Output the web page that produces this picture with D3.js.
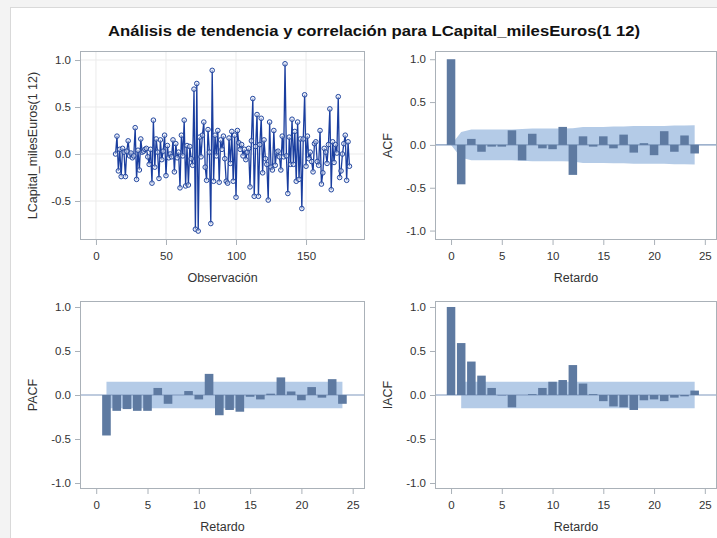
<!DOCTYPE html>
<html>
<head>
<meta charset="utf-8">
<script src="https://cdn.jsdelivr.net/npm/d3@7"></script>
<style>
  html, body { margin: 0; padding: 0; background: #f3f3f3; }
  svg { display: block; }
  text { font-family: "Liberation Sans", Arial, sans-serif; fill: #333; }
</style>
</head>
<body>
<script>
// Differenced series (1 12), observations 14..181
const obsStart = 14;
const seriesValues = [
  0.00, 0.19, -0.18, 0.05, -0.24, 0.06, 0.02, -0.24, 0.03, 0.14,
  -0.02, 0.01, -0.04, -0.02, 0.28, -0.27, 0.04, -0.17, 0.16, 0.02,
  0.03, 0.05, 0.06, -0.03, -0.11, 0.05, -0.31, 0.36, -0.14, 0.16,
  0.02, -0.26, 0.15, -0.06, 0.03, 0.20, -0.23, 0.09, -0.04, 0.00,
  -0.03, 0.15, -0.19, 0.11, -0.04, 0.02, -0.36, 0.20, -0.02, 0.36,
  -0.34, 0.09, -0.33, 0.08, -0.05, -0.12, 0.69, -0.80, 0.75, -0.82,
  0.18, -0.03, 0.20, 0.34, -0.14, -0.28, 0.26, 0.02, -0.74, 0.89,
  -0.29, 0.20, -0.02, 0.25, -0.30, 0.15, 0.05, 0.19, -0.05, -0.29,
  -0.31, 0.17, -0.10, 0.24, -0.29, 0.20, -0.46, 0.25, 0.12, 0.05,
  0.10, -0.02, 0.05, -0.06, 0.02, 0.06, -0.35, 0.14, 0.59, -0.45,
  0.08, 0.42, -0.45, 0.10, 0.38, -0.20, 0.15, -0.05, -0.11, -0.49,
  0.34, -0.14, -0.17, 0.25, -0.12, 0.02, 0.03, -0.03, -0.17, 0.19,
  -0.03, 0.96, -0.02, -0.42, 0.18, -0.11, 0.37, -0.11, 0.24, -0.29,
  0.34, -0.27, 0.16, -0.58, 0.16, 0.63, -0.13, 0.19, -0.05, 0.02,
  -0.08, -0.19, 0.11, 0.13, -0.08, -0.12, 0.25, -0.32, -0.20, 0.06,
  0.02, -0.10, 0.10, 0.48, -0.38, 0.13, -0.09, 0.10, 0.01, 0.61,
  -0.25, -0.18, 0.00, 0.11, 0.20, -0.28, 0.13, -0.13
];

// Autocorrelations, lags 0..24
const acfValues = [1.0, -0.46, 0.07, -0.08, -0.02, -0.02, 0.17, -0.18, 0.13, -0.04,
  -0.05, 0.21, -0.35, 0.10, -0.02, 0.10, -0.04, 0.12, -0.09, 0.02,
  -0.12, 0.16, -0.08, 0.11, -0.10];
// Two-standard-error band for the ACF, lags 0..24
const acfBand = [0.0, 0.15, 0.18, 0.18, 0.18, 0.18, 0.18, 0.185, 0.19, 0.19,
  0.19, 0.19, 0.195, 0.21, 0.21, 0.21, 0.215, 0.215, 0.22, 0.22,
  0.22, 0.22, 0.225, 0.225, 0.23];

// Partial autocorrelations, lags 1..24
const pacfValues = [-0.46, -0.18, -0.16, -0.18, -0.18, 0.08, -0.10, 0.00, 0.045, -0.05,
  0.24, -0.23, -0.17, -0.19, -0.02, -0.05, 0.015, 0.20, 0.04, -0.06,
  0.09, -0.03, 0.18, -0.10];

// Inverse autocorrelations, lags 0..24
const iacfValues = [1.0, 0.59, 0.38, 0.22, 0.08, -0.005, -0.14, 0.0, 0.01, 0.08,
  0.15, 0.17, 0.34, 0.13, 0.01, -0.07, -0.13, -0.14, -0.17, -0.06,
  -0.05, -0.07, -0.03, -0.015, 0.05];
const whiteNoiseBand = 0.151;

const yTicks = [-1.0, -0.5, 0.0, 0.5, 1.0];
const seriesYTicks = [-0.5, 0.0, 0.5, 1.0];
const seriesXTicks = [0, 50, 100, 150];
const lagTicks = [0, 5, 10, 15, 20, 25];

const titleText = "Análisis de tendencia y correlación para LCapital_milesEuros(1 12)";

const W = 717, H = 538;
const svg = d3.select("body").append("svg").attr("width", W).attr("height", H);

// white panel
svg.append("rect").attr("x", 10.5).attr("y", 7.5).attr("width", W).attr("height", H)
  .attr("fill", "#fff").attr("stroke", "#d9d9d9");

svg.append("text").attr("x", 374).attr("y", 36).attr("text-anchor", "middle")
  .attr("textLength", 532).attr("lengthAdjust", "spacingAndGlyphs")
  .style("font-size", "15.5px").style("font-weight", "bold").style("fill", "#111")
  .text(titleText);

const frameColor = "#aab1b8";
const barColor = "#5e7aa1";
const bandColor = "#b4cbe7";
const refColor = "#7e98bd";

function fmt(v) { return d3.format(".1f")(v).replace("−", "-"); }

function setupPanel(box, xDom, yDom, xTicks, yT, xLabel, yLabel, grid) {
  const x = d3.scaleLinear().domain(xDom).range([box.x0, box.x1]);
  const y = d3.scaleLinear().domain(yDom).range([box.y1, box.y0]);
  const g = svg.append("g");
  if (grid) {
    g.selectAll(".gx").data(xTicks).join("line")
      .attr("x1", d => x(d)).attr("x2", d => x(d)).attr("y1", box.y0).attr("y2", box.y1)
      .attr("stroke", "#ebebeb");
    g.selectAll(".gy").data(yT).join("line")
      .attr("y1", d => y(d)).attr("y2", d => y(d)).attr("x1", box.x0).attr("x2", box.x1)
      .attr("stroke", "#ebebeb");
  }
  const xAxis = g.append("g").attr("transform", `translate(0,${box.y1})`)
    .call(d3.axisBottom(x).tickValues(xTicks).tickSize(5).tickPadding(7).tickFormat(d3.format("d")));
  const yAxis = g.append("g").attr("transform", `translate(${box.x0},0)`)
    .call(d3.axisLeft(y).tickValues(yT).tickSize(5).tickPadding(4).tickFormat(fmt));
  [xAxis, yAxis].forEach(a => {
    a.select(".domain").remove();
    a.selectAll("line").attr("stroke", frameColor);
    a.selectAll("text").style("font-size", "11.5px").style("fill", "#333");
  });
  g.append("text").attr("x", (box.x0 + box.x1) / 2).attr("y", box.y1 + 42)
    .attr("text-anchor", "middle").style("font-size", "12.5px").text(xLabel);
  g.append("text").attr("transform", `translate(${box.x0 - 43},${(box.y0 + box.y1) / 2}) rotate(-90)`)
    .attr("text-anchor", "middle").style("font-size", "12.5px").text(yLabel);
  const plot = svg.append("g");
  const clipId = "clip" + Math.round(box.x0) + "_" + Math.round(box.y0);
  svg.append("clipPath").attr("id", clipId).append("rect")
    .attr("x", box.x0).attr("y", box.y0).attr("width", box.x1 - box.x0).attr("height", box.y1 - box.y0);
  plot.attr("clip-path", `url(#${clipId})`);
  svg.append("rect").attr("x", box.x0 + 0.5).attr("y", box.y0 + 0.5)
    .attr("width", box.x1 - box.x0 - 1).attr("height", box.y1 - box.y0 - 1)
    .attr("fill", "none").attr("stroke", frameColor);
  return { x, y, plot };
}

// --- Series plot ---
{
  const box = { x0: 80, x1: 365, y0: 51, y1: 240 };
  const p = setupPanel(box, [-11.4, 192.1], [-0.915, 1.096], seriesXTicks, seriesYTicks,
    "Observación", "LCapital_milesEuros(1 12)", true);
  const pts = seriesValues.map((v, i) => ({ t: obsStart + i, v }));
  p.plot.append("path").datum(pts)
    .attr("d", d3.line().x(d => p.x(d.t)).y(d => p.y(d.v)))
    .attr("fill", "none").attr("stroke", "#1a3e9f").attr("stroke-width", 1.3);
  p.plot.selectAll("circle").data(pts).join("circle")
    .attr("cx", d => p.x(d.t)).attr("cy", d => p.y(d.v)).attr("r", 2.3)
    .attr("fill", "#dfe6f5").attr("fill-opacity", 0.5)
    .attr("stroke", "#24489f").attr("stroke-width", 1);
}

function barPanel(box, values, lagStart, band, bandStart, label) {
  const p = setupPanel(box, [-1.58, 26.2], [box.yMin, box.yMax], lagTicks, yTicks, "Retardo", label, false);
  const lags = values.map((v, i) => ({ lag: lagStart + i, v }));
  const bandPts = band.map((b, i) => ({ lag: bandStart + i, b }));
  p.plot.append("path").datum(bandPts)
    .attr("d", d3.area().x(d => p.x(d.lag)).y0(d => p.y(-d.b)).y1(d => p.y(d.b)))
    .attr("fill", bandColor);
  p.plot.append("line").attr("x1", box.x0).attr("x2", box.x1)
    .attr("y1", p.y(0)).attr("y2", p.y(0)).attr("stroke", refColor).attr("stroke-width", 1.2);
  const bw = (p.x(1) - p.x(0)) * 0.84;
  p.plot.selectAll("rect.bar").data(lags).join("rect").attr("class", "bar")
    .attr("x", d => p.x(d.lag) - bw / 2).attr("width", bw)
    .attr("y", d => p.y(Math.max(0, d.v)))
    .attr("height", d => Math.abs(p.y(d.v) - p.y(0)))
    .attr("fill", barColor);
}

// --- ACF ---
barPanel({ x0: 435, x1: 717, y0: 51, y1: 240, yMin: -1.11, yMax: 1.096 },
  acfValues, 0, acfBand, 0, "ACF");

// --- PACF ---
barPanel({ x0: 80, x1: 365, y0: 301, y1: 489, yMin: -1.068, yMax: 1.068 },
  pacfValues, 1, d3.range(24).map(() => whiteNoiseBand), 1, "PACF");

// --- IACF ---
barPanel({ x0: 435, x1: 717, y0: 301, y1: 489, yMin: -1.068, yMax: 1.068 },
  iacfValues, 0, d3.range(24).map(() => whiteNoiseBand), 1, "IACF");
</script>
</body>
</html>
